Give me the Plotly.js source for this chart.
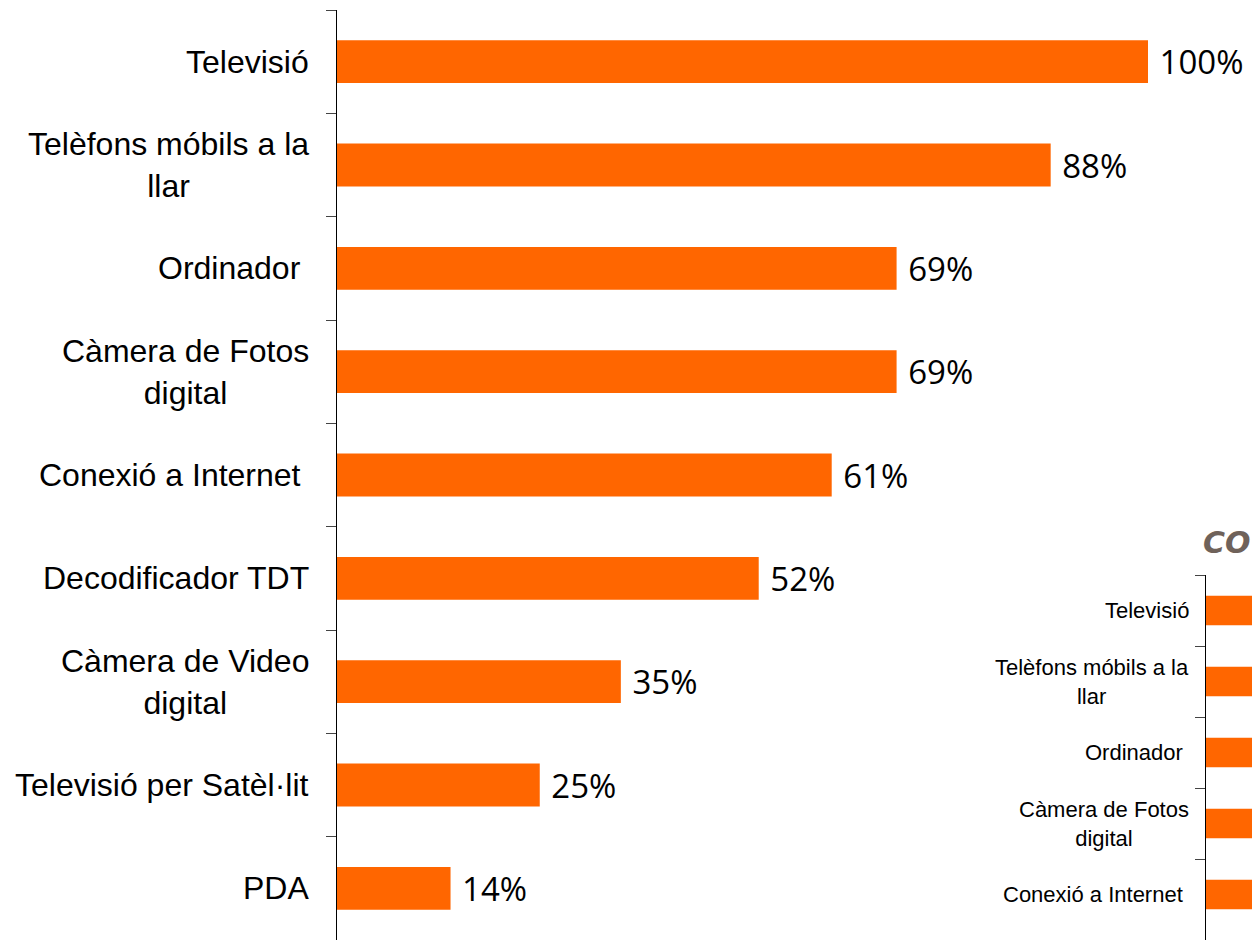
<!DOCTYPE html>
<html>
<head>
<meta charset="utf-8">
<script src="https://cdn.plot.ly/plotly-3.0.1.min.js"></script>
<style>
  html, body { margin: 0; padding: 0; background: #fff; overflow: hidden; }
</style>
</head>
<body>
<div id="myDiv" style="width:1252px;height:940px;"></div>
<script>
var categories = [
  'Televisió',
  'Telèfons móbils a la<br>llar',
  'Ordinador\u00a0',
  'Càmera de Fotos<br>digital',
  'Conexió a Internet\u00a0',
  'Decodificador TDT',
  'Càmera de Video<br>digital',
  'Televisió per Satèl·lit',
  'PDA'
];
var values = [100, 88, 69, 69, 61, 52, 35, 25, 14];

// second (cropped) chart in the corner
var insetCategories = categories.slice(0, 6);
var insetValues = values.slice(0, 6);
var insetTitle = 'CO';

var orange = '#FF6600';

var trace1 = {
  type: 'bar',
  orientation: 'h',
  x: values,
  y: categories,
  marker: { color: orange },
  text: values.map(function (v) { return '\u00a0' + v + '%'; }),
  textposition: 'outside',
  textfont: { family: 'Open Sans, sans-serif', size: 33, color: '#000' },
  cliponaxis: false,
  constraintext: 'none',
  hoverinfo: 'none',
  xaxis: 'x',
  yaxis: 'y'
};

var trace2 = {
  type: 'bar',
  orientation: 'h',
  x: insetValues,
  y: insetCategories,
  marker: { color: orange },
  hoverinfo: 'none',
  xaxis: 'x2',
  yaxis: 'y2'
};

var data = [trace1, trace2];

// category labels as annotations so wrapped lines stay centred
var annotations = [];
categories.forEach(function (c) {
  annotations.push({
    xref: 'x', yref: 'y', x: 0, y: c,
    text: c, showarrow: false,
    xanchor: 'right', yanchor: 'middle', align: 'center',
    xshift: -26,
    font: { family: 'Liberation Sans, Arial, sans-serif', size: 32, color: '#000' }
  });
});
insetCategories.forEach(function (c) {
  annotations.push({
    xref: 'x2', yref: 'y2', x: 0, y: c,
    text: c, showarrow: false,
    xanchor: 'right', yanchor: 'middle', align: 'center',
    xshift: -15,
    font: { family: 'Liberation Sans, Arial, sans-serif', size: 22, color: '#000' }
  });
});
annotations.push({
  xref: 'paper', yref: 'paper', x: 1201 / 1252, y: (940 - 543) / 940,
  text: '<b><i>' + insetTitle + '</i></b>', showarrow: false,
  xanchor: 'left', yanchor: 'middle',
  font: { family: 'DejaVu Sans, sans-serif', size: 30, color: '#6f625a' }
});

var layout = {
  width: 1252,
  height: 940,
  margin: { l: 0, r: 0, t: 0, b: 0 },
  paper_bgcolor: '#fff',
  plot_bgcolor: 'rgba(0,0,0,0)',
  showlegend: false,
  bargap: 0.585,
  xaxis: {
    domain: [337 / 1252, 1148 / 1252],
    range: [0, 100],
    visible: false,
    fixedrange: true
  },
  yaxis: {
    domain: [0, 930 / 940],
    type: 'category',
    autorange: false,
    range: [8.5, -0.5],
    showline: true, linecolor: '#000', linewidth: 1,
    ticks: 'outside', ticklen: 10, tickcolor: '#444', tickwidth: 1,
    tickson: 'boundaries',
    showticklabels: false,
    showgrid: false, zeroline: false,
    fixedrange: true
  },
  xaxis2: {
    domain: [1206 / 1252, 1],
    range: [0, 5],
    visible: false,
    anchor: 'y2',
    fixedrange: true
  },
  yaxis2: {
    domain: [0, 365 / 940],
    type: 'category',
    autorange: false,
    range: [365 / 71 - 0.5, -0.5],
    anchor: 'x2',
    showline: true, linecolor: '#000', linewidth: 1,
    ticks: 'outside', ticklen: 10, tickcolor: '#444', tickwidth: 1,
    tickson: 'boundaries',
    showticklabels: false,
    showgrid: false, zeroline: false,
    fixedrange: true
  },
  annotations: annotations
};

Plotly.newPlot('myDiv', data, layout, { displayModeBar: false, staticPlot: true });
</script>
</body>
</html>
